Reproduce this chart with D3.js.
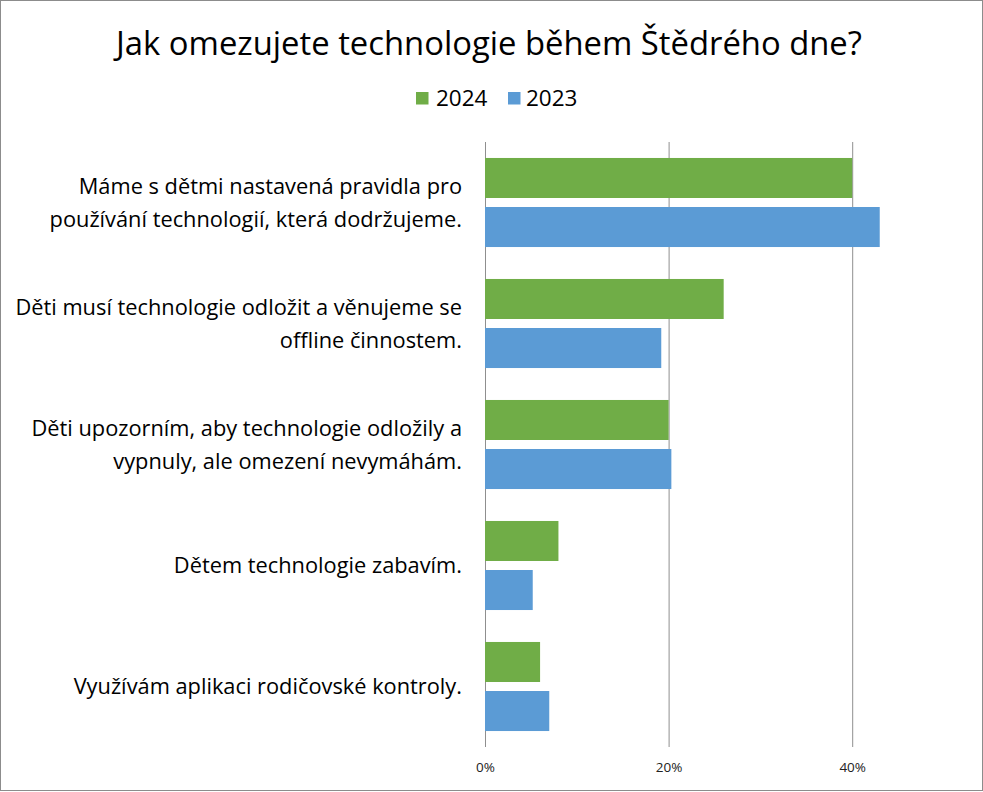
<!DOCTYPE html>
<html><head><meta charset="utf-8">
<script src="https://cdn.jsdelivr.net/npm/d3@7"></script>
<style>body{margin:0;background:#fff}svg{display:block}text{font-family:"Open Sans","Noto Sans",sans-serif}</style>
</head><body>
<svg id="c" width="983" height="792"></svg>
<script>
const categories = [
  ["Máme s dětmi nastavená pravidla pro", "používání technologií, která dodržujeme."],
  ["Děti musí technologie odložit a věnujeme se", "offline činnostem."],
  ["Děti upozorním, aby technologie odložily a", "vypnuly, ale omezení nevymáhám."],
  ["Dětem technologie zabavím."],
  ["Využívám aplikaci rodičovské kontroly."]
];
const seriesNames = ["2024", "2023"];
const values2024 = [40, 26, 20, 8, 6];
const values2023 = [43, 19.2, 20.3, 5.2, 7];
const tickValues = [0, 20, 40];
const colors = ["#70AD47", "#5B9BD5"];

const svg = d3.select("#c");
svg.append("rect").attr("x",0.5).attr("y",0.5).attr("width",982).attr("height",790)
  .attr("fill","#fff").attr("stroke","#8c8c8c");

svg.append("text").attr("x",489).attr("y",55).attr("text-anchor","middle")
  .attr("font-size",32.8).attr("fill","#000").text("Jak omezujete technologie během Štědrého dne?");

const x = d3.scaleLinear().domain([0,50]).range([485,944]);
const keys = categories.map((d,i)=>i);
const y = d3.scaleBand().domain(keys).range([142,747]).paddingInner(0.264).paddingOuter(0.132);
const ys = d3.scaleBand().domain(seriesNames).range([0,y.bandwidth()]).paddingInner(0.1837).paddingOuter(0);

const gx = svg.append("g").attr("transform","translate(0,747)")
  .call(d3.axisBottom(x).tickValues(tickValues).tickSize(-605).tickFormat(d=>d+"%"));
gx.select(".domain").remove();
gx.selectAll(".tick line").attr("stroke","#8f8f8f").attr("stroke-width",1);
gx.selectAll(".tick text").attr("font-size",13.5).attr("fill","#222").attr("dy","1.65em")
  .style("font-family","Open Sans, sans-serif");

const data = [values2024, values2023];
seriesNames.forEach((s,si)=>{
  svg.append("g").selectAll("rect").data(data[si]).join("rect")
    .attr("x",x(0)).attr("y",(d,i)=>y(i)+ys(s))
    .attr("width",d=>x(d)-x(0)).attr("height",ys.bandwidth())
    .attr("fill",colors[si]);
});

const lab = svg.append("g");
categories.forEach((lines,i)=>{
  const cy = y(i)+y.bandwidth()/2;
  const lh = 33;
  const t = lab.append("text").attr("text-anchor","end").attr("font-size",21.8).attr("fill","#000");
  lines.forEach((ln,j)=>{
    t.append("tspan").attr("x",462).attr("y",cy + (j-(lines.length-1)/2)*lh).attr("dy","0.35em").text(ln);
  });
});

const leg = [{x:416,tx:436},{x:508,tx:526}];
seriesNames.forEach((s,i)=>{
  svg.append("rect").attr("x",leg[i].x).attr("y",92).attr("width",12.5).attr("height",12.5).attr("fill",colors[i]);
  svg.append("text").attr("x",leg[i].tx).attr("y",98.5).attr("dy","0.35em").attr("font-size",22.5).attr("fill","#000").text(s);
});
</script>
</body></html>
